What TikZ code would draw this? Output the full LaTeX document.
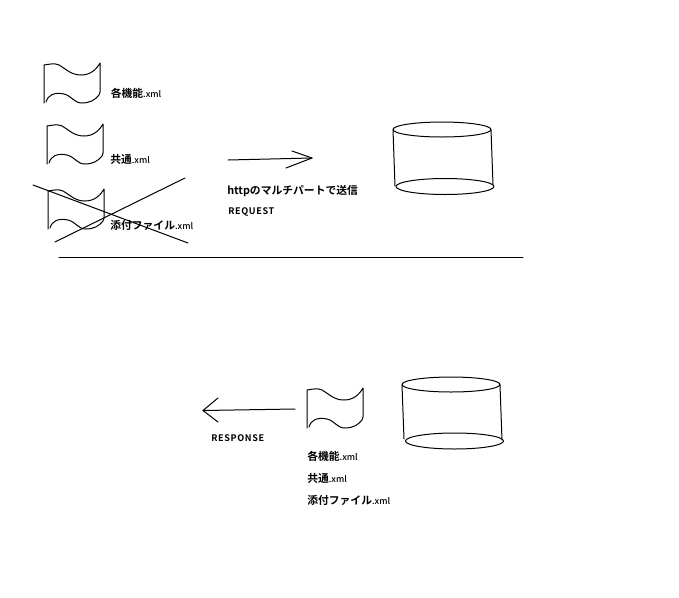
\documentclass[tikz,border=0pt]{standalone}
\usepackage{fontspec}
\setmainfont{Noto Sans CJK JP}
\newfontfamily\lblfont{Noto Sans CJK JP Bold}
\newfontfamily\extfont{Noto Sans CJK JP Medium}
\newfontfamily\capsfont[LetterSpace=7]{Noto Sans CJK JP Bold}
\newcommand{\xmlext}{{\extfont\fontsize{6.6}{10}\selectfont .xml}}
\tikzset{
  sketch/.style={line width=0.75pt,black,line cap=round,line join=round},
  lbl/.style={anchor=west,inner sep=0pt,font=\lblfont\fontsize{8.1}{10}\selectfont,text=black},
  capslbl/.style={anchor=west,inner sep=0pt,font=\capsfont\fontsize{6.8}{10}\selectfont,text=black},
  pics/docsheet/.style={code={
    \draw[sketch] (0,39) -- (0,1) .. controls (6,0) and (11,-1) .. (15,1)
      .. controls (22,5) and (27,11) .. (37,11)
      .. controls (46,11) and (52,6) .. (56,-1) -- (56,28) -- (55,31)
      .. controls (51,36) and (46,39) .. (38,39)
      .. controls (30,39) and (28,32) .. (20,30)
      .. controls (10,28) and (4,31) .. (2,38);
  }},
}
\begin{document}
\begin{tikzpicture}[x=0.75pt,y=-0.75pt]
\useasboundingbox (0,0) rectangle (679,597);
\fill[white] (0,0) rectangle (679,597);
% documents
\pic at (44,64) {docsheet};
\pic at (47,125) {docsheet};
\pic at (48,190) {docsheet};
\pic at (307,389) {docsheet};
% cylinders
\draw[sketch] (442,129.5) ellipse [x radius=49,y radius=7.5];
\draw[sketch] (445,186.5) ellipse [x radius=49,y radius=8];
\draw[sketch] (393,130) -- (395,186);
\draw[sketch] (491,130) -- (493,184);
\draw[sketch] (451,384.5) ellipse [x radius=49,y radius=7.5];
\draw[sketch] (454.5,441) ellipse [x radius=49,y radius=8];
\draw[sketch] (402,385) -- (404,439);
\draw[sketch] (500,385) -- (502,440);
% arrows
\coordinate (reqA) at (228,160);
\coordinate (reqB) at (312,158);
\coordinate (reqU) at (292,151);
\coordinate (reqL) at (286,168);
\draw[sketch] (reqA) -- (reqB);
\draw[sketch] (reqU) -- (reqB) -- (reqL);
\coordinate (resA) at (295,409);
\coordinate (resB) at (203,410.5);
\coordinate (resU) at (218,398);
\coordinate (resL) at (218,422);
\draw[sketch] (resA) -- (resB);
\draw[sketch] (resU) -- (resB) -- (resL);
% divider and cross
\coordinate (divA) at (59,257.5);
\coordinate (divB) at (523,257.5);
\draw[sketch] (divA) -- (divB);
\coordinate (crossA) at (33,185);
\coordinate (crossB) at (188,243);
\coordinate (crossC) at (55,242);
\coordinate (crossD) at (185,178);
\draw[sketch] (crossA) -- (crossB);
\draw[sketch] (crossC) -- (crossD);
% labels
\node[lbl] (l1) at (110.5,93) {各機能\xmlext};
\node[lbl] (l2) at (110,159) {共通\xmlext};
\node[lbl] (l3) at (110,225) {添付ファイル\xmlext};
\node[lbl] (l4) at (227,191) {httpのマルチパートで送信};
\node[capslbl] (l5) at (228,212) {REQUEST};
\node[capslbl] (l6) at (211,438) {RESPONSE};
\node[lbl] (l7) at (307,456) {各機能\xmlext};
\node[lbl] (l8) at (307,478) {共通\xmlext};
\node[lbl] (l9) at (307,500) {添付ファイル\xmlext};
\end{tikzpicture}
\end{document}
